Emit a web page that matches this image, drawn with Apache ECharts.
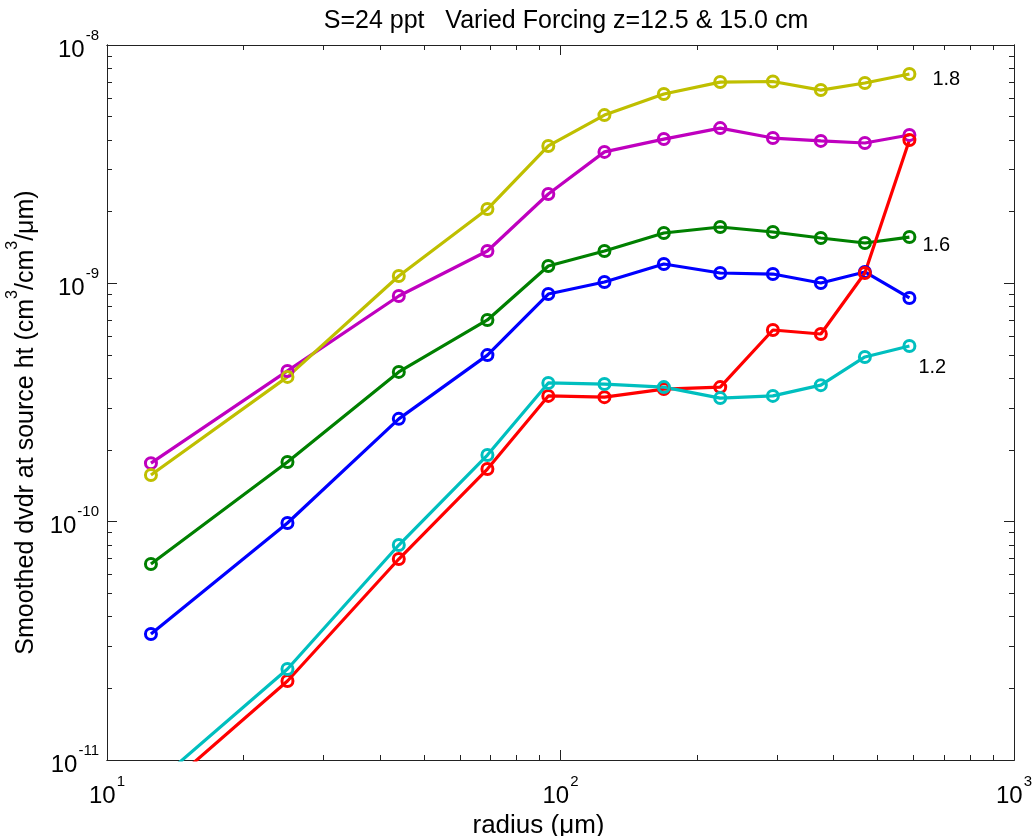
<!DOCTYPE html>
<html>
<head>
<meta charset="utf-8">
<script src="https://cdn.jsdelivr.net/npm/echarts@6/dist/echarts.min.js"></script>
<style>
  html, body { margin: 0; padding: 0; background: #fff; }
  #chart { width: 1032px; height: 836px; }
</style>
</head>
<body>
<div id="chart"></div>
<script>
// radius bins (um)
const radius = [12.5, 25, 44, 69, 94, 125, 169, 225, 294, 375, 469, 588]

// smoothed dvdr at source height, one array per forcing run
const yellow18 = [1.57e-10, 4.05e-10, 1.074e-9, 2.05e-9, 3.77e-9, 5.08e-9, 6.23e-9, 6.99e-9, 7.03e-9, 6.47e-9, 6.93e-9, 7.56e-9]
const magenta = [1.76e-10, 4.29e-10, 8.85e-10, 1.367e-9, 2.37e-9, 3.56e-9, 4.03e-9, 4.48e-9, 4.07e-9, 3.96e-9, 3.88e-9, 4.19e-9]
const green16 = [6.64e-11, 1.78e-10, 4.25e-10, 7.02e-10, 1.182e-9, 1.367e-9, 1.626e-9, 1.723e-9, 1.642e-9, 1.55e-9, 1.476e-9, 1.564e-9]
const blue = [3.38e-11, 9.87e-11, 2.70e-10, 5.00e-10, 9.02e-10, 1.013e-9, 1.205e-9, 1.105e-9, 1.094e-9, 1.003e-9, 1.116e-9, 8.68e-10]
const red = [6.8e-12, 2.145e-11, 6.97e-11, 1.663e-10, 3.37e-10, 3.33e-10, 3.60e-10, 3.67e-10, 6.37e-10, 6.13e-10, 1.105e-9, 3.99e-9]
const cyan12 = [7.7e-12, 2.41e-11, 7.98e-11, 1.904e-10, 3.82e-10, 3.78e-10, 3.67e-10, 3.30e-10, 3.37e-10, 3.74e-10, 4.91e-10, 5.46e-10]

// ticks
const xMajor = [10, 100, 1000]
const xMinor = [20, 30, 40, 50, 60, 70, 80, 90, 200, 300, 400, 500, 600, 700, 800, 900]
const yMajor = [1e-11, 1e-10, 1e-9, 1e-8]
const yMinor = []
;[1e-11, 1e-10, 1e-9].forEach(d => {
  for (let k = 2; k <= 9; k++) yMinor.push(k * d)
})

const font = 'Liberation Sans, Arial, sans-serif'
const powLabel = v => '{b|10}{s|' + Math.round(Math.log10(v)) + '}'
const powRich = {
  b: { fontSize: 24, fontFamily: font, color: '#000', lineHeight: 34, verticalAlign: 'bottom' },
  s: { fontSize: 15, fontFamily: font, color: '#000', lineHeight: 15, verticalAlign: 'top', padding: [0, 0, 0, 1] }
}
const lineColor = '#222'

const makeSeries = (name, vals, color, endLabel) => {
  const data = radius.map((r, i) => {
    const item = { value: [r, vals[i]] }
    if (endLabel && i === radius.length - 1) {
      item.label = {
        show: true,
        formatter: endLabel.text,
        position: 'right',
        distance: 0,
        offset: endLabel.offset,
        fontSize: 20,
        fontFamily: font,
        color: '#000'
      }
    }
    return item
  })
  return {
    name,
    type: 'line',
    data,
    clip: true,
    symbol: 'circle',
    symbolSize: 11,
    color,
    lineStyle: { width: 3.2, color },
    itemStyle: { color: 'rgba(0,0,0,0)', borderColor: color, borderWidth: 3 },
    emphasis: { disabled: true },
    z: 3
  }
}

const baseX = {
  type: 'log', logBase: 10, min: 10, max: 1000, gridIndex: 0,
  splitLine: { show: false },
  axisLine: { show: true, lineStyle: { color: lineColor, width: 1 } }
}
const baseY = {
  type: 'log', logBase: 10, min: 1e-11, max: 1e-8, gridIndex: 0,
  splitLine: { show: false },
  axisLine: { show: true, lineStyle: { color: lineColor, width: 1 } }
}

const chart = echarts.init(document.getElementById('chart'))

const option = {
  animation: false,
  backgroundColor: '#fff',
  title: {
    text: 'S=24 ppt   Varied Forcing z=12.5 & 15.0 cm',
    left: 561,
    textAlign: 'center',
    top: 4,
    textStyle: { fontSize: 25, fontWeight: 'normal', fontFamily: font, color: '#000' }
  },
  grid: { left: 107, right: 18, top: 45, bottom: 76, containLabel: false, outerBoundsMode: 'none' },
  xAxis: [
    Object.assign({}, baseX, {
      position: 'bottom',
      name: 'radius (μm)',
      nameLocation: 'middle',
      nameGap: 46,
      nameTextStyle: { fontSize: 26, fontFamily: font, color: '#000', padding: [0, 44, 0, 0] },
      axisTick: { show: true, inside: true, length: 10, customValues: xMajor, lineStyle: { color: lineColor } },
      axisLabel: { show: true, customValues: xMajor, margin: 14, formatter: powLabel, rich: powRich }
    }),
    Object.assign({}, baseX, {
      position: 'bottom',
      axisTick: { show: true, inside: true, length: 5, customValues: xMinor, lineStyle: { color: lineColor } },
      axisLabel: { show: false }
    }),
    Object.assign({}, baseX, {
      position: 'top',
      axisTick: { show: true, inside: true, length: 10, customValues: xMajor, lineStyle: { color: lineColor } },
      axisLabel: { show: false }
    }),
    Object.assign({}, baseX, {
      position: 'top',
      axisTick: { show: true, inside: true, length: 5, customValues: xMinor, lineStyle: { color: lineColor } },
      axisLabel: { show: false }
    })
  ],
  yAxis: [
    Object.assign({}, baseY, {
      position: 'left',
      name: '{t|Smoothed dvdr at source ht (cm}{s|3}{t|/cm}{s|3}{t|/μm)}',
      nameLocation: 'middle',
      nameGap: 60,
      nameRotate: 90,
      nameTextStyle: {
        fontSize: 25, fontFamily: font, color: '#000',
        padding: [0, 40, 0, 0],
        rich: {
          t: { fontSize: 25, fontFamily: font, color: '#000', lineHeight: 34, verticalAlign: 'bottom' },
          s: { fontSize: 16, fontFamily: font, color: '#000', lineHeight: 16, verticalAlign: 'top' }
        }
      },
      axisTick: { show: true, inside: true, length: 10, customValues: yMajor, lineStyle: { color: lineColor } },
      axisLabel: { show: true, customValues: yMajor, margin: 8, formatter: powLabel, rich: powRich }
    }),
    Object.assign({}, baseY, {
      position: 'left',
      axisTick: { show: true, inside: true, length: 5, customValues: yMinor, lineStyle: { color: lineColor } },
      axisLabel: { show: false }
    }),
    Object.assign({}, baseY, {
      position: 'right',
      axisTick: { show: true, inside: true, length: 10, customValues: yMajor, lineStyle: { color: lineColor } },
      axisLabel: { show: false }
    }),
    Object.assign({}, baseY, {
      position: 'right',
      axisTick: { show: true, inside: true, length: 5, customValues: yMinor, lineStyle: { color: lineColor } },
      axisLabel: { show: false }
    })
  ],
  series: [
    makeSeries('magenta', magenta, '#bf00bf'),
    makeSeries('1.8', yellow18, '#bfbf00', { text: '1.8', offset: [16, 6] }),
    makeSeries('1.6', green16, '#008000', { text: '1.6', offset: [6, 8] }),
    makeSeries('blue', blue, '#0000ff'),
    makeSeries('red', red, '#ff0000'),
    makeSeries('1.2', cyan12, '#00bfbf', { text: '1.2', offset: [2, 22] })
  ]
}

chart.setOption(option)
window.addEventListener('resize', () => chart.resize())
</script>
</body>
</html>
